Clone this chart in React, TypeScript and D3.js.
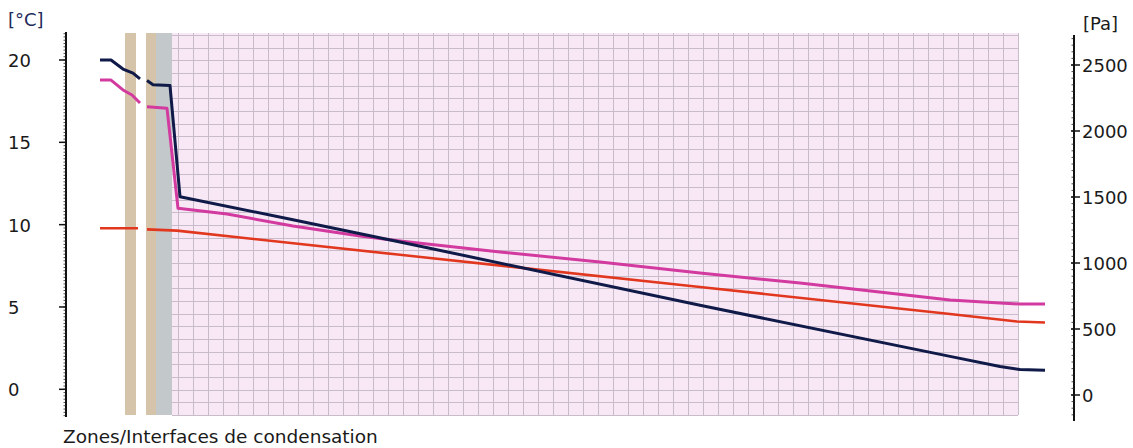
import React from "react";
import * as d3 from "d3";

const W = 1133;
const H = 448;

// Axis ticks
const tempTicks = [0, 5, 10, 15, 20];
const pressureTicks = [0, 500, 1000, 1500, 2000, 2500];

// Layers along the wall (position units)
const layerStarts = [59, 80, 90, 106];
const layerEnds = [70, 90, 106, 952];
const layerKinds = ["wood", "wood", "stone", "insulation"];

// Temperature [°C] (null = break)
const tempPos = [34, 45, 57, 67, 74, 77, 81, 87, 104, 114, 227, 334, 634, 884, 934, 954, 979];
const tempVals: (number | null)[] = [20.0, 20.0, 19.45, 19.2, 18.85, null, 18.75, 18.5, 18.45, 11.7, 10.3, 8.95, 5.1, 2.0, 1.38, 1.2, 1.15];

// Saturation vapour pressure [Pa]
const satPos = [34, 45, 57, 66, 74, 77, 81, 101, 112, 161, 227, 294, 334, 434, 534, 634, 734, 884, 934, 954, 979];
const satVals: (number | null)[] = [2386, 2386, 2311, 2273, 2212, null, 2184, 2172, 1414, 1371, 1280, 1205, 1167, 1083, 1008, 924, 848, 720, 697, 689, 689];

// Partial vapour pressure [Pa]
const vapPos = [34, 72, 77, 81, 111, 334, 634, 884, 951, 979];
const vapVals: (number | null)[] = [1263, 1263, null, 1255, 1245, 1062, 818, 614, 557, 549];

const FONT = "DejaVu Sans, Verdana, sans-serif";

export default function App() {
  const xScale = d3.scaleLinear().domain([0, 1007]).range([66, 1073]);
  const yT = d3.scaleLinear().domain([0, 20]).range([389.3, 60]);
  const yP = d3.scaleLinear().domain([0, 2500]).range([395, 65]);

  const bandTop = 33;
  const bandBottom = 415;

  const mk = (pos: number[], vals: (number | null)[], y: d3.ScaleLinear<number, number>) => {
    const pts = pos.map((p, i) => [p, vals[i]] as [number, number | null]);
    return d3
      .line<[number, number | null]>()
      .defined((d) => d[1] != null)
      .x((d) => xScale(d[0]))
      .y((d) => y(d[1] as number))(pts) as string;
  };

  const tempPath = mk(tempPos, tempVals, yT);
  const satPath = mk(satPos, satVals, yP);
  const vapPath = mk(vapPos, vapVals, yP);

  const layerFill: Record<string, string> = {
    wood: "#d6c4aa",
    stone: "#c3c8ca",
    insulation: "#f8e8f5",
  };

  const insIdx = layerKinds.indexOf("insulation");
  const insX0 = xScale(layerStarts[insIdx]);
  const insX1 = xScale(layerEnds[insIdx]);
  const vLines = d3.range(insX0 + 6, insX1 + 0.5, 15);
  const hLines = d3.range(bandTop + 2, bandBottom + 0.5, 12.67);

  const minorT = d3.range(-1.6, 21.7, 0.2);
  const minorP = d3.range(-150, 2750, 50);

  return (
    <svg width={W} height={H} style={{ display: "block", position: "absolute", left: 0, top: 0 }}>
      <rect x={0} y={0} width={W} height={H} fill="#ffffff" />

      {/* layers */}
      {layerStarts.map((s, i) => (
        <rect
          key={"l" + i}
          x={xScale(s)}
          y={bandTop}
          width={xScale(layerEnds[i]) - xScale(s)}
          height={bandBottom - bandTop}
          fill={layerFill[layerKinds[i]]}
        />
      ))}

      {/* insulation hatch grid */}
      <g stroke="#c8bccb" strokeWidth={1}>
        {vLines.map((x, i) => (
          <line key={"v" + i} x1={Math.round(x) + 0.5} x2={Math.round(x) + 0.5} y1={bandTop} y2={bandBottom} />
        ))}
        {hLines.map((y, i) => (
          <line key={"h" + i} x1={insX0} x2={insX1} y1={Math.round(y) + 0.5} y2={Math.round(y) + 0.5} />
        ))}
      </g>

      {/* series */}
      <path d={vapPath} fill="none" stroke="#e2371f" strokeWidth={2.6} strokeLinejoin="round" />
      <path d={satPath} fill="none" stroke="#d23a9f" strokeWidth={3} strokeLinejoin="round" />
      <path d={tempPath} fill="none" stroke="#0f1a48" strokeWidth={3} strokeLinejoin="round" />

      {/* left axis */}
      <g fontFamily={FONT} fontSize={18} fill="#1a1a1a">
        <line x1={66} x2={66} y1={32} y2={417} stroke="#111" strokeWidth={2} />
        {minorT.map((v, i) => (
          <line key={"mt" + i} x1={63.5} x2={66} y1={yT(v)} y2={yT(v)} stroke="#222" strokeWidth={0.8} />
        ))}
        {tempTicks.map((t) => (
          <g key={"tt" + t}>
            <line x1={59} x2={66} y1={yT(t)} y2={yT(t)} stroke="#111" strokeWidth={1.5} />
            <text x={8} y={yT(t) + 7} textAnchor="start">
              {t}
            </text>
          </g>
        ))}
        <text x={8} y={26} fill="#1f2a5a">
          [°C]
        </text>
      </g>

      {/* right axis */}
      <g fontFamily={FONT} fontSize={18} fill="#1a1a1a">
        <line x1={1074} x2={1074} y1={35} y2={421} stroke="#111" strokeWidth={2} />
        {minorP.map((v, i) => (
          <line key={"mp" + i} x1={1071.5} x2={1074} y1={yP(v)} y2={yP(v)} stroke="#222" strokeWidth={0.8} />
        ))}
        {pressureTicks.map((t) => (
          <g key={"pt" + t}>
            <line x1={1071} x2={1080} y1={yP(t)} y2={yP(t)} stroke="#111" strokeWidth={1.5} />
            <text x={1082} y={yP(t) + 7} textAnchor="start">
              {t}
            </text>
          </g>
        ))}
        <text x={1083} y={30}>
          [Pa]
        </text>
      </g>

      <text x={63} y={443} fontFamily={FONT} fontSize={18.5} fill="#1a1a1a">
        Zones/Interfaces de condensation
      </text>
    </svg>
  );
}
